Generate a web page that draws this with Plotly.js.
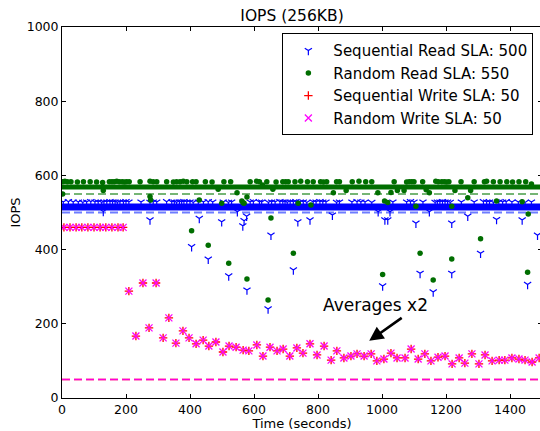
<!DOCTYPE html>
<html><head><meta charset="utf-8">
<script src="https://cdn.plot.ly/plotly-3.0.1.min.js"></script>
<style>html,body{margin:0;padding:0;overflow:hidden;background:#fff}#chart{width:543px;height:431px}</style>
</head><body><div id="chart"></div>
<script>
// ---------- data ----------
const xTicks = [0, 200, 400, 600, 800, 1000, 1200, 1400];
const yTicks = [0, 200, 400, 600, 800, 1000];

// bulk level of the dense per-second samples
const bandTime = [0, 1500];
const seqReadBand = [515, 515];
const randReadBand = [569, 569];

// SLA levels
const slaTime = [0, 1500];
const seqReadSLA = [500, 500];
const randReadSLA = [550, 550];
const seqWriteSLA = [50, 50];
const randWriteSLA = [50, 50];

// Sequential read: samples just above the bulk level
const seqReadHighTime = [
  4,20,35,51,65,77,90,103,113,124,
  131,140,150,158,166,173,181,192,200,209,
  247,275,285,296,327,343,351,358,367,374,
  381,390,400,410,426,442,457,471,504,520,
  530,588,598,617,624,645,655,666,681,690,
  697,704,713,723,731,744,754,765,785,794,
  806,815,825,858,867,906,922,934,947,968,
  1034,1077,1089,1100,1128,1166,1173,1181,1189,1197,
  1205,1213,1248,1288,1317,1327,1336,1348,1365,1377,
  1388,1406,1426,1447,1467];
const seqReadHighIOPS = [
  528,529,528,528,527,528,529,528,528,527,
  528,528,529,528,528,527,528,528,529,528,
  528,527,528,528,529,528,528,527,528,528,
  529,528,528,527,528,528,529,528,528,527,
  528,528,529,528,528,527,528,528,529,528,
  528,527,528,528,529,528,528,527,528,528,
  529,528,528,527,528,528,529,528,528,527,
  528,528,529,528,528,527,528,528,529,528,
  528,527,528,528,529,528,528,527,528,528,
  529,528,528,527,528];
// Sequential read: samples below the bulk level
const seqReadLowTime = [
  129,275,429,499,548,565,569,577,737,775,
  845,988,1009,1018,1025,1106,1148,1218,1268,1358,
  1438,
  405,457,521,578,644,653,723,1002,1119,1160,
  1218,1308,1455,1486];
const seqReadLowIOPS = [
  503,480,484,475,502,464,478,490,475,480,
  493,502,480,480,502,471,502,471,490,481,
  480,
  408,374,329,291,240,439,345,302,336,286,
  336,390,306,439];

// Random read: samples above the bulk level
const randReadHighTime = [
  2,9,17,28,48,67,88,108,127,148,
  156,163,171,179,188,195,202,210,244,275,
  285,296,327,348,358,369,379,390,408,419,
  448,469,506,527,588,608,617,640,669,690,
  699,707,728,746,767,785,808,817,827,858,
  867,907,928,949,968,1038,1077,1085,1093,1100,
  1127,1168,1176,1187,1195,1202,1209,1247,1288,1320,
  1327,1348,1369,1390,1408,1428,1449,1467];
const randReadHighIOPS = [
  583,584,583,583,582,583,583,582,581,583,
  583,583,584,583,583,582,583,583,583,584,
  583,583,583,582,583,583,584,583,583,583,
  583,582,583,583,583,584,583,583,582,583,
  583,583,583,584,583,583,583,582,583,583,
  583,583,584,583,583,583,582,583,583,583,
  583,584,583,583,583,582,583,583,583,583,
  584,583,583,583,582,583,583,577];
// Random read: samples below the bulk level
const randReadLowTime = [
  2,129,275,277,429,488,499,547,562,566,
  569,578,627,653,659,738,778,848,888,987,
  1008,1018,1028,1048,1069,1106,1138,1148,1218,1228,
  1268,1277,1358,1438,1457,
  405,457,521,578,644,723,1002,1119,1160,1218,
  1308,1455];
const randReadLowIOPS = [
  550,559,543,534,534,563,525,553,531,526,
  525,542,574,485,563,525,520,553,559,553,
  531,527,554,559,559,517,561,553,517,559,
  540,559,531,529,496,
  451,412,363,321,264,390,333,390,318,375,
  429,339];

// Writes (sequential and random coincide in the picture)
const writeTime = [
  6,25,44,62,81,100,119,137,156,175,
  191,209,231,253,272,294,316,334,356,378,
  397,419,441,459,481,503,522,544,566,584,
  609,628,650,672,691,712,734,753,775,797,
  819,841,859,881,903,922,944,966,984,1006,
  1028,1047,1072,1091,1113,1134,1153,1175,1197,1219,
  1241,1259,1281,1303,1322,1344,1366,1384,1406,1428,
  1447,1469,1491];
const seqWriteIOPS = [
  460,460,460,460,460,460,460,460,460,460,
  460,288,167,310,189,310,162,216,148,181,
  162,146,156,140,151,124,140,137,129,127,
  143,113,137,127,132,113,135,121,146,116,
  140,102,127,108,113,119,113,119,100,105,
  121,108,108,132,105,119,100,110,113,92,
  108,94,119,92,116,100,102,102,108,105,
  102,97,108];
const randWriteIOPS = [
  460,460,460,460,460,460,460,460,460,460,
  460,288,167,310,189,310,162,216,148,181,
  162,146,156,140,151,124,140,137,129,127,
  143,113,137,127,132,113,135,121,146,116,
  140,102,127,108,113,119,113,119,100,105,
  121,108,108,132,105,119,100,110,113,92,
  108,94,119,92,116,100,102,102,108,105,
  102,97,108];

const seriesNames = ['Sequential Read SLA: 500', 'Random Read SLA: 550',
                     'Sequential Write SLA: 50', 'Random Write SLA: 50'];

// ---------- drawing ----------
const FONT = 'DejaVu Sans, Liberation Sans, sans-serif';
const BLUE = '#0000ff', GREEN = '#006e00', RED = '#ff0000', MAG = '#ff00ff';

function lineTrace(x, y, color, width, dash) {
  return {x: x, y: y, type: 'scatter', mode: 'lines', showlegend: false, hoverinfo: 'skip',
          line: {color: color, width: width, dash: dash || 'solid'}};
}

const traces = [
  lineTrace(bandTime, seqReadBand, BLUE, 7),
  lineTrace(bandTime, randReadBand, GREEN, 5),
  lineTrace(slaTime, seqReadSLA, 'rgba(60,80,255,0.75)', 2, '8px,4px'),
  lineTrace(slaTime, randReadSLA, 'rgba(40,140,40,0.85)', 1.5, '8px,4px'),
  lineTrace(slaTime, seqWriteSLA, RED, 1.5, '8px,4px'),
  lineTrace(slaTime, randWriteSLA, 'rgba(255,0,255,0.85)', 1.5, '8px,4px'),
  {x: seqReadHighTime.concat(seqReadLowTime), y: seqReadHighIOPS.concat(seqReadLowIOPS),
   name: seriesNames[0], type: 'scatter', mode: 'markers',
   marker: {symbol: 'y-down', size: 6, color: BLUE, line: {color: BLUE, width: 1.2}}},
  {x: randReadHighTime.concat(randReadLowTime), y: randReadHighIOPS.concat(randReadLowIOPS),
   name: seriesNames[1], type: 'scatter', mode: 'markers',
   marker: {symbol: 'circle', size: 5.5, color: GREEN, line: {width: 0}}},
  {x: writeTime, y: seqWriteIOPS, name: seriesNames[2], type: 'scatter', mode: 'markers',
   marker: {symbol: 'cross-thin', size: 6, color: RED, line: {color: RED, width: 1.3}}},
  {x: writeTime, y: randWriteIOPS, name: seriesNames[3], type: 'scatter', mode: 'markers',
   marker: {symbol: 'x-thin', size: 7, color: MAG, line: {color: MAG, width: 1.3}}}
];

const axisCommon = {
  ticks: 'inside', ticklen: 4, tickwidth: 1, tickcolor: '#000',
  showline: true, linecolor: '#000', linewidth: 1, mirror: 'ticks',
  showgrid: false, zeroline: false, automargin: false,
  tickfont: {family: FONT, size: 12.5, color: '#000'}
};

const layout = {
  width: 543, height: 431,
  margin: {l: 62, r: 1, t: 27, b: 33, pad: 0},
  paper_bgcolor: '#fff', plot_bgcolor: '#fff',
  font: {family: FONT, color: '#000'},
  title: {text: 'IOPS (256KB)', font: {family: FONT, size: 15.5, color: '#000'},
          xref: 'container', x: 292 / 543, xanchor: 'center',
          yref: 'container', y: 1 - 16 / 431, yanchor: 'middle'},
  xaxis: Object.assign({}, axisCommon, {range: [0, 1500], tickvals: xTicks,
          title: {text: 'Time (seconds)', font: {family: FONT, size: 13, color: '#000'}, standoff: 2}}),
  yaxis: Object.assign({}, axisCommon, {range: [0, 1000], tickvals: yTicks,
          title: {text: 'IOPS', font: {family: FONT, size: 13, color: '#000'}, standoff: 3}}),
  showlegend: true,
  legend: {x: 0.982, y: 0.983, xanchor: 'right', yanchor: 'top',
           bgcolor: '#fff', bordercolor: '#000', borderwidth: 1,
           font: {family: FONT, size: 15, color: '#000'},
           itemwidth: 40,
           traceorder: 'normal', itemclick: false},
  annotations: [
    {x: 980, y: 250, xref: 'x', yref: 'y', text: 'Averages x2', showarrow: false,
     font: {family: FONT, size: 17, color: '#000'}},
    {x: 960, y: 154, xref: 'x', yref: 'y', text: '', showarrow: true,
     ax: 34, ay: -24, arrowhead: 2, arrowsize: 1.1, arrowwidth: 2.6, arrowcolor: '#000'}
  ]
};

Plotly.newPlot('chart', traces, layout, {displayModeBar: false, staticPlot: true});
</script></body></html>
